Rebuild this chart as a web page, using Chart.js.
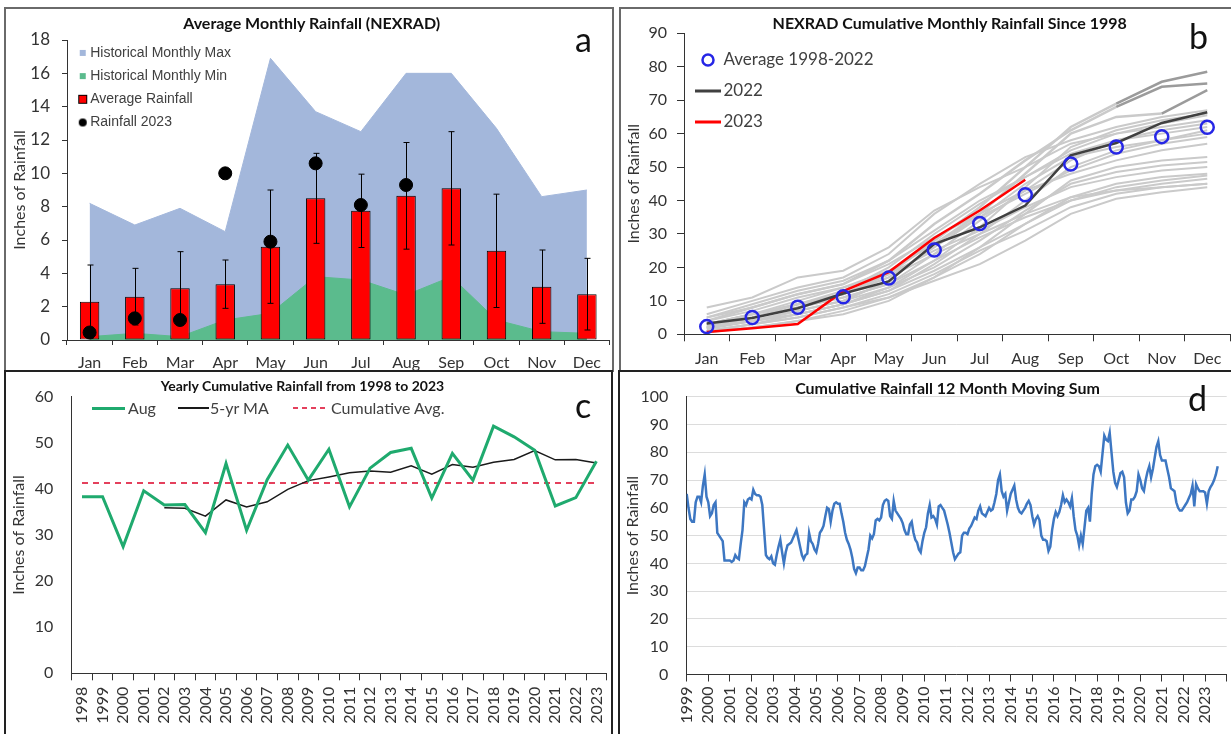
<!DOCTYPE html>
<html><head><meta charset="utf-8">
<script src="https://cdn.jsdelivr.net/npm/chart.js@4.4.0/dist/chart.umd.min.js"></script>
<style>
html,body{margin:0;padding:0;background:#fff;}
body{width:1231px;height:734px;overflow:hidden;position:relative;font-family:Lato,sans-serif;}
canvas{position:absolute;}
.fr{position:absolute;box-sizing:border-box;}
.t{position:absolute;text-align:center;white-space:nowrap;color:#111;font-family:Lato;font-weight:bold;height:20px;line-height:20px;width:600px;}
.let{position:absolute;font-family:Lato;font-size:34px;color:#111;line-height:40px;height:40px;}
.lg{position:absolute;white-space:nowrap;color:#404040;font:16px Lato;line-height:20px;}
.ln{position:absolute;}
</style></head><body>
<div class="fr" style="left:4px;top:7px;width:610px;height:365px;border:2px solid #6a6a6a;"></div>
<div class="fr" style="left:619px;top:7px;width:620px;height:365px;border:2px solid #6a6a6a;"></div>
<div class="fr" style="left:4px;top:370px;width:609px;height:370px;border:2px solid #222;"></div>
<div class="fr" style="left:618px;top:370px;width:621px;height:370px;border:2px solid #222;"></div>

<canvas id="cA" width="612" height="362" style="left:5px;top:8px"></canvas>
<canvas id="cB" width="620" height="362" style="left:619px;top:8px"></canvas>
<canvas id="cC" width="612" height="361" style="left:5px;top:373px"></canvas>
<canvas id="cD" width="612" height="361" style="left:619px;top:373px"></canvas>

<div class="t" style="left:11.7px;top:13px;font-size:16px">Average Monthly Rainfall (NEXRAD)</div>
<div class="t" style="left:649.7px;top:13px;font-size:16px">NEXRAD Cumulative Monthly Rainfall Since 1998</div>
<div class="t" style="left:2.5px;top:376px;font-size:14px">Yearly Cumulative Rainfall from 1998 to 2023</div>
<div class="t" style="left:647.5px;top:378px;font-size:16px">Cumulative Rainfall 12 Month Moving Sum</div>

<div class="let" style="left:575px;top:19px">a</div>
<div class="let" style="left:1189px;top:16px">b</div>
<div class="let" style="left:575px;top:385px">c</div>
<div class="let" style="left:1188px;top:378px">d</div>

<div class="ln" style="left:92px;top:406.5px;width:33px;height:3px;background:#1FAA6E"></div>
<div class="lg" style="left:128px;top:398px">Aug</div>
<div class="ln" style="left:178px;top:407.3px;width:31px;height:1.5px;background:#1a1a1a"></div>
<div class="lg" style="left:210px;top:398px">5-yr MA</div>
<div class="ln" style="left:293px;top:407px;width:33px;height:2px;background:repeating-linear-gradient(90deg,#E4405C 0 5px,transparent 5px 9px)"></div>
<div class="lg" style="left:331px;top:398px">Cumulative Avg.</div>

<script>
// ---------- Panel a data ----------
const months = ['Jan','Feb','Mar','Apr','May','Jun','Jul','Aug','Sep','Oct','Nov','Dec'];
const histMax = [8.2, 6.9, 7.9, 6.5, 16.9, 13.7, 12.5, 16.0, 16.0, 12.7, 8.6, 9.0];
const histMin = [0.2, 0.4, 0.2, 1.2, 1.6, 3.8, 3.6, 2.7, 3.8, 1.2, 0.5, 0.4];
const avgRain = [2.3, 2.6, 3.1, 3.35, 5.6, 8.5, 7.75, 8.65, 9.1, 5.35, 3.2, 2.75];
const avgErr  = [2.2, 1.7, 2.2, 1.45, 3.4, 2.7, 2.2, 3.2, 3.4, 3.4, 2.2, 2.15];
const rain2023 = [0.45, 1.3, 1.2, 10.0, 5.9, 10.6, 8.1, 9.3, null, null, null, null];

// ---------- Panel b data ----------
const avgCum  = [2.3, 5.0, 8.1, 11.2, 16.8, 25.2, 33.1, 41.7, 50.9, 56.0, 59.1, 61.9];
const cum2022 = [3.2, 4.9, 7.8, 12.2, 15.8, 27.0, 32.0, 38.5, 53.5, 57.2, 63.2, 66.4];
const cum2023 = [0.7, 1.8, 3.1, 12.9, 18.6, 28.8, 37.0, 46.2, null, null, null, null];
const histCum = [
  [3, 6, 9, 12, 18, 28, 38, 50, 62, 69, 75.5, 78.5],
  [4, 8, 12, 15, 22, 33, 42, 52, 61, 68, 74, 75],
  [2, 4, 7, 10, 16, 27, 36, 48, 60, 65, 66, 73],
  [6, 10, 14, 17, 24, 36, 45, 53, 58, 62, 65, 67],
  [1, 3, 6, 9, 14, 22, 32, 44, 56, 61, 64, 66],
  [3, 5, 9, 13, 20, 30, 39, 47, 55, 60, 63, 65.5],
  [8, 11, 17, 19, 26, 37, 44, 50, 57, 60, 62, 64],
  [2, 5, 8, 11, 15, 24, 34, 43, 52, 58, 61, 63],
  [1.5, 4, 6, 9, 13, 21, 30, 40, 50, 55, 58, 61],
  [3, 6, 10, 14, 19, 27, 35, 42, 49, 54, 57, 59],
  [5, 8, 12, 15, 21, 29, 36, 43, 48, 52, 55, 57],
  [1, 2, 4, 6, 10, 17, 26, 36, 46, 50, 52, 53],
  [2, 4, 7, 10, 14, 20, 28, 37, 45, 48.5, 50.5, 51.5],
  [4, 7, 11, 14, 18, 25, 31, 38, 44, 47, 49, 50],
  [0.5, 2, 4, 7, 11, 17, 24, 33, 41, 45, 47, 48],
  [2.5, 5, 8, 11, 15, 22, 29, 35, 40, 43, 45, 46.5],
  [1, 3, 5, 8, 11, 16, 21, 28, 36, 40.5, 42.5, 44],
  [3, 6, 9, 12, 17, 24, 30, 36, 41, 43, 44, 45],
  [2, 4, 6, 9, 13, 19, 26, 33, 40, 44, 46, 47.5],
  [5, 9, 13, 16, 22, 31, 40, 47, 54, 58, 60, 62],
  [1, 3, 5, 8, 12, 18, 25, 31, 38, 42, 44, 45],
  [2, 5, 8, 12, 17, 26, 35, 45, 53, 56, 58, 60]
];

// ---------- Panel c data ----------
const years = ['1998','1999','2000','2001','2002','2003','2004','2005','2006','2007','2008','2009','2010',
  '2011','2012','2013','2014','2015','2016','2017','2018','2019','2020','2021','2022','2023'];
const augCum = [38.3, 38.3, 27.5, 39.6, 36.5, 36.6, 30.5, 45.5, 31.0, 42.0, 49.5, 41.9, 48.6,
  36.1, 44.5, 47.9, 48.8, 38.0, 47.7, 41.9, 53.6, 51.3, 48.4, 36.3, 38.1, 46.0];
const ma5 = [null, null, null, null, 35.9, 35.8, 34.1, 37.6, 36.1, 37.2, 39.9, 41.8, 42.6,
  43.5, 43.9, 43.6, 45.0, 43.2, 45.3, 44.7, 45.8, 46.4, 48.3, 46.3, 46.4, 45.6];
const cumAvg = [41.3, 41.3, 41.3, 41.3, 41.3, 41.3, 41.3, 41.3, 41.3, 41.3, 41.3, 41.3, 41.3,
  41.3, 41.3, 41.3, 41.3, 41.3, 41.3, 41.3, 41.3, 41.3, 41.3, 41.3, 41.3, 41.3];

// ---------- Panel d data (monthly, Jan 1999 - Aug 2023) ----------
const sumStartYear = 1999;
const moveSum = [
  65, 60, 56, 55, 55, 62, 64, 64, 62, 68, 72, 64,
  62, 57, 58, 61, 62, 51, 50, 49, 48, 41, 41, 41,
  41, 40.5, 41, 43, 42, 41.5, 47, 52, 62, 61, 63, 63.5,
  63, 66.5, 65, 64.5, 64.5, 64, 61, 52, 43, 42, 41.5, 42.5,
  40, 39.5, 43, 46, 48.5, 44, 40, 44, 46.5, 47, 47.5, 49,
  50.5, 52, 49, 46, 43, 41.5, 43, 43.5, 51, 48, 47, 45,
  44, 47, 51, 52, 53.5, 57, 60, 59.5, 55, 59, 61.5, 62,
  61.5, 61.5, 58, 55, 51, 48.5, 47, 45, 42, 38, 36.5, 38.5,
  38.5, 37.5, 37.5, 39, 42, 45, 50, 49, 50.5, 55.5, 56, 55.5,
  56.5, 61, 62.5, 63, 62.5, 57, 56, 62.5, 59, 58, 57, 56,
  54.5, 52, 50.5, 50.5, 54, 55, 51, 48.5, 47.5, 45, 44, 48,
  51, 53, 58, 61, 56.5, 57, 56, 54, 60.5, 61, 60, 59,
  56.5, 54, 51, 47.5, 44, 41.5, 42.5, 43.5, 44, 50, 51, 51,
  50.5, 52.5, 53.5, 55, 56.5, 56, 59, 60.5, 58, 57.5, 57, 58.5,
  60, 59, 59.5, 62, 65, 70, 72, 66, 64, 65, 59, 62,
  65, 66.5, 68, 63, 60, 58.5, 58, 59, 60, 61.5, 62.5, 61,
  57, 54, 56, 57, 55.5, 50, 48.5, 48.5, 48, 44.5, 46, 52,
  56, 58.5, 57, 58.5, 61, 64.5, 62, 63, 62, 60.5, 63.5, 57,
  52, 50, 46.5, 50, 47, 53, 59, 60, 55, 65, 72, 75,
  75.5, 75, 73, 79.5, 86, 84.5, 84, 87, 80, 73, 69, 67.5,
  70, 72.5, 73, 71, 62, 58, 59, 63, 63, 64, 66, 72,
  70, 67, 66, 70, 73, 75, 71, 74, 78, 82, 84, 79,
  77, 77, 77, 74, 71, 67, 66.5, 66, 62, 60, 59, 59,
  60, 61, 62, 63.5, 65, 68, 60.5, 68.5, 67, 66, 66, 66,
  65.5, 61.5, 66, 67.5, 68.5, 70, 72, 75
];

// ---------- helpers ----------
Chart.defaults.font.family = 'Lato';
Chart.defaults.color = '#333';
Chart.defaults.animation = false;

function fix(s, w, h) {
  if (w !== null) s.width = w;
  if (h !== null) s.height = h;
  s.paddingLeft = 0; s.paddingRight = 0; s.paddingTop = 0; s.paddingBottom = 0;
}
function mk(w, h, draw) {
  const c = document.createElement('canvas'); c.width = w; c.height = h;
  draw(c.getContext('2d'), w, h); return c;
}
const legendShift = {
  id: 'legendShift',
  afterLayout(chart, args, opts) {
    const lg = chart.legend;
    if (lg && opts) { lg.left += opts.dx || 0; lg.top += opts.dy || 0; }
  }
};
const errorBars = {
  id: 'errorBars',
  afterDatasetDraw(chart, args, opts) {
    if (!opts || !opts.errors || args.index !== opts.datasetIndex) return;
    const ys = chart.scales.y, ctx = chart.ctx, vals = chart.data.datasets[args.index].data;
    ctx.save(); ctx.strokeStyle = opts.color; ctx.lineWidth = opts.width;
    args.meta.data.forEach((bar, i) => {
      const hi = ys.getPixelForValue(vals[i] + opts.errors[i]);
      const lo = ys.getPixelForValue(vals[i] - opts.errors[i]);
      const x = Math.round(bar.x) + 0.5, c = opts.cap;
      ctx.beginPath();
      ctx.moveTo(x, hi); ctx.lineTo(x, lo);
      ctx.moveTo(x - c, hi); ctx.lineTo(x + c, hi);
      ctx.moveTo(x - c, lo); ctx.lineTo(x + c, lo);
      ctx.stroke();
    });
    ctx.restore();
  }
};

const COL_MAX = '#A3B7DB', COL_MIN = '#5BBB8D';

// ---------- Panel a ----------
const markA = [
  mk(8, 8, (c) => { c.fillStyle = COL_MAX; c.fillRect(1, 1, 6, 6); }),
  mk(8, 8, (c) => { c.fillStyle = COL_MIN; c.fillRect(1, 1, 6, 6); }),
  mk(11, 11, (c) => { c.fillStyle = '#FF0000'; c.fillRect(1, 1, 9, 9); c.strokeStyle = '#000'; c.lineWidth = 1; c.strokeRect(1.5, 1.5, 8, 8); }),
  mk(10, 10, (c) => { c.fillStyle = '#000'; c.beginPath(); c.arc(5, 5, 4, 0, Math.PI * 2); c.fill(); })
];
new Chart(document.getElementById('cA'), {
  type: 'bar',
  data: {
    labels: months,
    datasets: [
      { type: 'line', label: 'Historical Monthly Max', data: histMax, fill: 'origin', backgroundColor: COL_MAX,
        borderColor: COL_MAX, borderWidth: 1, pointRadius: 0, tension: 0, order: 4 },
      { type: 'line', label: 'Historical Monthly Min', data: histMin, fill: 'origin', backgroundColor: COL_MIN,
        borderColor: COL_MIN, borderWidth: 1, pointRadius: 0, tension: 0, order: 3 },
      { type: 'bar', label: 'Average Rainfall', data: avgRain, backgroundColor: '#FF0000', borderColor: '#000',
        borderWidth: 1, borderSkipped: false, barPercentage: 0.43, categoryPercentage: 1, order: 2 },
      { type: 'line', label: 'Rainfall 2023', data: rain2023, showLine: false, pointRadius: 6.5,
        pointBackgroundColor: '#000', pointBorderColor: '#000', order: 1 }
    ]
  },
  plugins: [errorBars, legendShift],
  options: {
    responsive: false,
    layout: { padding: { top: 32, right: 4, bottom: 0, left: 0 } },
    plugins: {
      tooltip: { enabled: false },
      errorBars: { datasetIndex: 2, errors: avgErr, color: '#000', width: 1, cap: 3 },
      legendShift: { dx: 6, dy: 28.7 },
      legend: {
        position: 'chartArea', align: 'start',
        labels: {
          usePointStyle: true, boxWidth: 1, boxHeight: 14, padding: 9.2,
          font: { family: 'Liberation Sans', size: 14 }, color: '#404040',
          generateLabels(chart) {
            const items = Chart.defaults.plugins.legend.labels.generateLabels(chart);
            items.forEach(it => { it.pointStyle = markA[it.datasetIndex]; });
            return items.sort((p, q) => p.datasetIndex - q.datasetIndex);
          }
        }
      }
    },
    scales: {
      x: {
        offset: true,
        grid: { offset: true, drawOnChartArea: false, drawTicks: true, tickLength: 5, color: '#333' },
        border: { display: true, color: '#333', width: 1 },
        ticks: { font: { size: 16 }, color: '#333', padding: 8, maxRotation: 0 },
        afterFit: s => fix(s, null, 30)
      },
      y: {
        min: 0, max: 18,
        ticks: { stepSize: 2, font: { size: 17 }, color: '#333', padding: 12 },
        grid: { drawOnChartArea: false, tickLength: 5, color: '#333' },
        border: { display: true, color: '#333' },
        title: { display: true, text: 'Inches of Rainfall', font: { size: 16 }, color: '#333', padding: { top: 5, bottom: 0 } },
        afterFit: s => fix(s, 62, null)
      }
    }
  }
});

// ---------- Panel b ----------
const markB = [
  mk(16, 16, (c) => { c.strokeStyle = '#2626E6'; c.lineWidth = 2.5; c.beginPath(); c.arc(8, 8, 5.5, 0, Math.PI * 2); c.stroke(); }),
  mk(26, 4, (c) => { c.fillStyle = '#404040'; c.fillRect(0, 0.5, 26, 3); }),
  mk(26, 4, (c) => { c.fillStyle = '#FF0000'; c.fillRect(0, 0.5, 26, 3); })
];
const grayDatasets = histCum.map((arr, k) => ({
  label: '', data: arr, borderColor: '#CACACA', borderWidth: k < 3 ? 2.5 : 2, pointRadius: 0, tension: 0,
  segment: k < 3 ? { borderColor: ctx => (ctx.p0DataIndex >= (k === 2 ? 10 : 9) ? '#9B9B9B' : '#CACACA') } : undefined
}));
new Chart(document.getElementById('cB'), {
  type: 'line',
  data: {
    labels: months,
    datasets: [
      { label: 'Average 1998-2022', data: avgCum, showLine: false, pointRadius: 6.5, pointBorderWidth: 2.5,
        pointBorderColor: '#2626E6', pointBackgroundColor: 'rgba(255,255,255,0)', borderColor: '#2626E6' },
      { label: '2022', data: cum2022, borderColor: '#404040', borderWidth: 2.5, pointRadius: 0, tension: 0 },
      { label: '2023', data: cum2023, borderColor: '#FF0000', borderWidth: 2.5, pointRadius: 0, tension: 0 },
      ...grayDatasets
    ]
  },
  plugins: [legendShift],
  options: {
    responsive: false,
    layout: { padding: { top: 25.3, right: 4, bottom: 0, left: 0 } },
    plugins: {
      tooltip: { enabled: false },
      legendShift: { dx: 3, dy: 29.5 },
      legend: {
        position: 'chartArea', align: 'start',
        labels: {
          usePointStyle: true, boxWidth: 14, boxHeight: 17, padding: 14,
          font: { size: 17 }, color: '#404040',
          filter: item => item.text !== '',
          generateLabels(chart) {
            const items = Chart.defaults.plugins.legend.labels.generateLabels(chart);
            items.forEach(it => { if (it.datasetIndex < 3) it.pointStyle = markB[it.datasetIndex]; });
            return items;
          }
        }
      }
    },
    scales: {
      x: {
        offset: true,
        grid: { offset: true, drawOnChartArea: false, tickLength: 7, color: '#333' },
        border: { display: true, color: '#333' },
        ticks: { font: { size: 16 }, color: '#333', padding: 7.5, maxRotation: 0 },
        afterFit: s => fix(s, null, 35.7)
      },
      y: {
        min: 0, max: 90,
        ticks: { stepSize: 10, font: { size: 16 }, color: '#333', padding: 10 },
        grid: { drawOnChartArea: false, tickLength: 7, color: '#333' },
        border: { display: true, color: '#333' },
        title: { display: true, text: 'Inches of Rainfall', font: { size: 16 }, color: '#333', padding: { top: 5.7, bottom: 0 } },
        afterFit: s => fix(s, 65, null)
      }
    }
  }
});

// ---------- Panel c ----------
new Chart(document.getElementById('cC'), {
  type: 'line',
  data: {
    labels: years,
    datasets: [
      { label: 'Aug', data: augCum, borderColor: '#1FAA6E', borderWidth: 3, pointRadius: 0, tension: 0 },
      { label: '5-yr MA', data: ma5, borderColor: '#1A1A1A', borderWidth: 1.5, pointRadius: 0, tension: 0 },
      { label: 'Cumulative Avg.', data: cumAvg, borderColor: '#E4405C', borderDash: [6, 5], borderWidth: 2, pointRadius: 0 }
    ]
  },
  options: {
    responsive: false,
    layout: { padding: { top: 23.7, right: 10.3, bottom: 0, left: 0 } },
    plugins: { legend: { display: false }, tooltip: { enabled: false } },
    scales: {
      x: {
        offset: true,
        grid: { offset: true, drawOnChartArea: false, tickLength: 7, color: '#333' },
        border: { display: true, color: '#333' },
        ticks: { font: { size: 16 }, color: '#333', padding: 6.4, minRotation: 90, maxRotation: 90, autoSkip: false },
        afterFit: s => fix(s, null, 60.7)
      },
      y: {
        min: 0, max: 60,
        ticks: { stepSize: 10, font: { size: 16 }, color: '#333', padding: 18.4 },
        grid: { drawOnChartArea: false, drawTicks: false },
        border: { display: true, color: '#333' },
        title: { display: true, text: 'Inches of Rainfall', font: { size: 16 }, color: '#333', padding: { top: 4.7, bottom: 0 } },
        afterFit: s => fix(s, 66.7, null)
      }
    }
  }
});

// ---------- Panel d ----------
new Chart(document.getElementById('cD'), {
  type: 'line',
  data: {
    datasets: [
      { label: '12 Month Moving Sum', data: moveSum.map((v, i) => ({ x: sumStartYear + i / 12, y: v })),
        borderColor: '#3D77C2', borderWidth: 2.5, pointRadius: 0, tension: 0 }
    ]
  },
  options: {
    responsive: false,
    layout: { padding: { top: 23.7, right: 4.3, bottom: 0, left: 0 } },
    plugins: { legend: { display: false }, tooltip: { enabled: false } },
    scales: {
      x: {
        type: 'linear', min: 1999, max: 2024,
        grid: { drawOnChartArea: false, tickLength: 7, color: '#333' },
        border: { display: true, color: '#333' },
        ticks: { stepSize: 1, autoSkip: false, font: { size: 16 }, color: '#333', padding: 5,
          minRotation: 90, maxRotation: 90, callback: v => (v < 2024 ? String(v) : '') },
        afterFit: s => fix(s, null, 59.5)
      },
      y: {
        min: 0, max: 100,
        ticks: { stepSize: 10, font: { size: 16 }, color: '#333', padding: 18.4 },
        grid: { color: '#DCDCDC', drawTicks: false },
        border: { display: true, color: '#333' },
        title: { display: true, text: 'Inches of Rainfall', font: { size: 16 }, color: '#333', padding: { top: 4.7, bottom: 0 } },
        afterFit: s => fix(s, 67.7, null)
      }
    }
  }
});
</script>
</body></html>
